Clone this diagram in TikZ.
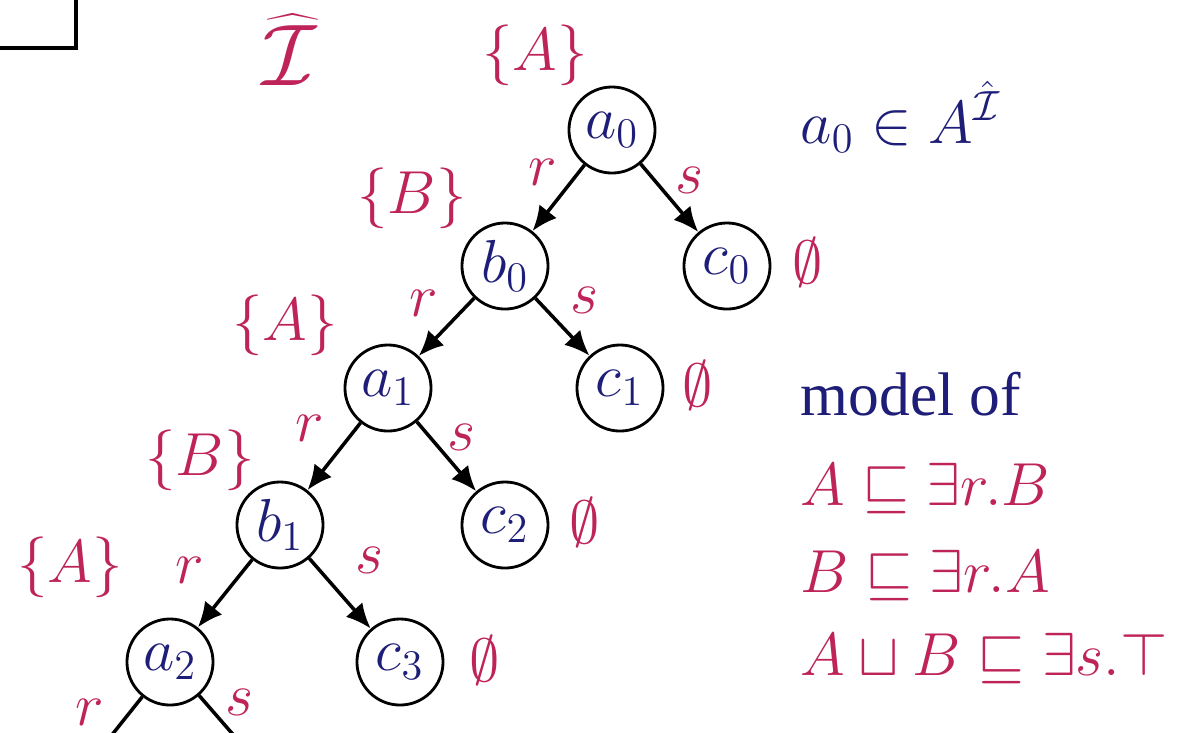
\documentclass[tikz,border=0pt]{standalone}
\usepackage{fontspec}
\newfontfamily\timesfont{Liberation Serif}
\usetikzlibrary{arrows.meta}
\definecolor{navy}{RGB}{30,30,120}
\definecolor{crimson}{RGB}{190,35,90}
\begin{document}
\begin{tikzpicture}[x=0.01cm, y=-0.01cm,
    vertex/.style={circle, draw, line width=0.8pt, minimum size=0.86cm, inner sep=0pt, text=navy},
    arr/.style={-{Latex[length=2.5mm, width=2.2mm]}, line width=1pt},
    lbl/.style={text=crimson, inner sep=1pt},
    every node/.style={font=\fontsize{18}{22}\selectfont}]
    \useasboundingbox (0,0) rectangle (1193,732);
    \clip (0,0) rectangle (1193,732);
    \draw[line width=1pt] (-20,-20) rectangle (76,48);

    \node[vertex] (a0) at (612,130) {$a_0$};
    \node[vertex] (b0) at (505,266) {$b_0$};
    \node[vertex] (c0) at (727,266) {$c_0$};
    \node[vertex] (a1) at (388,388) {$a_1$};
    \node[vertex] (c1) at (620,388) {$c_1$};
    \node[vertex] (b1) at (280,525) {$b_1$};
    \node[vertex] (c2) at (505,525) {$c_2$};
    \node[vertex] (a2) at (170,662) {$a_2$};
    \node[vertex] (c3) at (400,662) {$c_3$};
    \coordinate (a3) at (60,800);
    \coordinate (c4) at (290,800);

    \draw[arr] (a0) -- (b0);
    \draw[arr] (a0) -- (c0);
    \draw[arr] (b0) -- (a1);
    \draw[arr] (b0) -- (c1);
    \draw[arr] (a1) -- (b1);
    \draw[arr] (a1) -- (c2);
    \draw[arr] (b1) -- (a2);
    \draw[arr] (b1) -- (c3);
    \draw[line width=1pt] (a2) -- (a3);
    \draw[line width=1pt] (a2) -- (c4);

    % edge labels
    \node[lbl] (r1) at (543,172) {$r$};
    \node[lbl] (s1) at (690,180) {$s$};
    \node[lbl] (r2) at (424,303) {$r$};
    \node[lbl] (s2) at (585,300) {$s$};
    \node[lbl] (r3) at (310,428) {$r$};
    \node[lbl] (s3) at (462,437) {$s$};
    \node[lbl] (r4) at (190,570) {$r$};
    \node[lbl] (s4) at (370,560) {$s$};
    \node[lbl] (r5) at (90,712) {$r$};
    \node[lbl] (s5) at (240,702) {$s$};

    % labels of the elements
    \node[lbl] (la0) at (535,55) {$\{A\}$};
    \node[lbl] (lb0) at (412,198) {$\{B\}$};
    \node[lbl] (la1) at (285,325) {$\{A\}$};
    \node[lbl] (lb1) at (200,460) {$\{B\}$};
    \node[lbl] (la2) at (70,567) {$\{A\}$};
    \node[lbl] (lc0) at (808,262) {$\emptyset$};
    \node[lbl] (lc1) at (698,385) {$\emptyset$};
    \node[lbl] (lc2) at (585,522) {$\emptyset$};
    \node[lbl] (lc3) at (485,660) {$\emptyset$};

    \node[lbl, font=\fontsize{25}{30}\selectfont] (interp) at (290,50) {$\widehat{\mathcal{I}}$};
    \node[text=navy, anchor=base west, inner sep=0pt] (fact) at (800,143) {$a_0 \in A^{\hat{\mathcal{I}}}$};
    \node[text=navy, anchor=base west, inner sep=0pt, font=\fontsize{17.5}{20}\timesfont] (model) at (800,415) {model of};
    \node[lbl, anchor=base west, inner sep=0pt] (ax1) at (800,505) {$A \sqsubseteq \exists r.B$};
    \node[lbl, anchor=base west, inner sep=0pt] (ax2) at (800,592) {$B \sqsubseteq \exists r.A$};
    \node[lbl, anchor=base west, inner sep=0pt] (ax3) at (800,675) {$A \sqcup B \sqsubseteq \exists s.\top$};
\end{tikzpicture}
\end{document}
